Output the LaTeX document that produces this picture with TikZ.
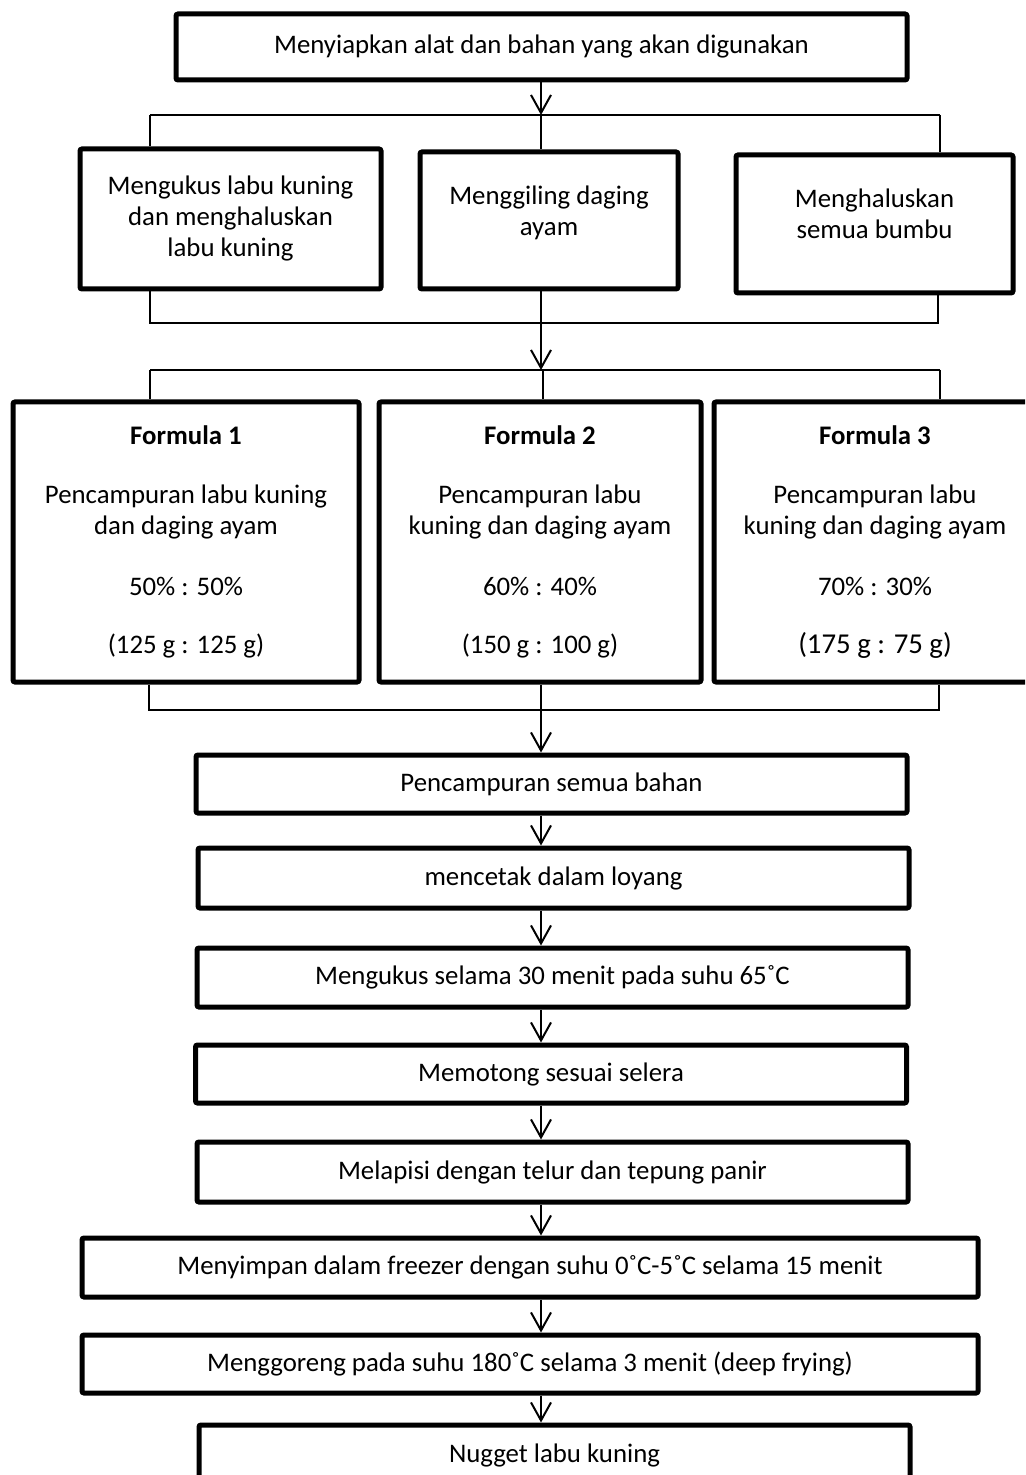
\documentclass[tikz,border=0pt]{standalone}
\usepackage{fontspec}
\setmainfont{Carlito}
\usetikzlibrary{arrows.meta, positioning, calc}
\tikzset{
    stepbox/.style={
        rectangle,
        draw=black,
        line width=2.5pt,
        rounded corners=1pt,
        align=center,
        inner sep=2pt,
        fill=white,
        font=\fontsize{13.4}{15.5}\selectfont
    },
    wide/.style={
        stepbox,
        minimum width=355.5pt,
        minimum height=29.5pt
    },
    formula/.style={
        stepbox,
        minimum width=161pt,
        minimum height=140pt
    },
    wire/.style={
        draw=black,
        line width=1pt
    },
    flow/.style={
        draw=black,
        line width=1pt,
        -{Straight Barb[length=9pt, width=10pt]}
    }
}

\begin{document}
\begin{tikzpicture}[x=0.5pt, y=-0.5pt]
\clip (0,0) rectangle (1025,1475);
\fill[white] (0,0) rectangle (1025,1475);

% Spine of the flow
\coordinate (spine) at (541,0);

% Preparation
\node[stepbox, minimum width=365.5pt, minimum height=33pt] (prep) at (541.5,47) {Menyiapkan alat dan bahan yang akan digunakan};

% Three preparation steps
\node[stepbox, minimum width=150.5pt, minimum height=70pt] (steam) at (230.5,219) {Mengukus labu kuning\\dan menghaluskan\\labu kuning};
\node[stepbox, minimum width=129pt, minimum height=68.5pt] (grind) at (549,220.5) {Menggiling daging\\ayam\\[-5.5pt]};
\node[stepbox, minimum width=138.5pt, minimum height=69pt] (spice) at (874.5,224) {Menghaluskan\\semua bumbu\\[-5.5pt]};

\coordinate (split-l) at (150,115);
\coordinate (split-m) at (541,115);
\coordinate (split-r) at (940,115);
\draw[flow] (prep.south -| spine) -- (split-m);
\draw[wire] (split-l) -- (split-r);
\draw[wire] (split-l) -- (split-l |- steam.north);
\draw[wire] (split-m) -- (split-m |- grind.north);
\draw[wire] (split-r) -- (split-r |- spice.north);

\coordinate (join-l) at (150,323);
\coordinate (join-r) at (938,323);
\draw[wire] (steam.south -| join-l) -- (join-l) -- (join-r) -- (spice.south -| join-r);

% Three formulas
\node[formula, minimum width=173pt] (f1) at (186,542) {\textbf{Formula 1}\\[14pt]Pencampuran labu kuning\\dan daging ayam\\[15pt]50\% : 50\%\\[13.5pt](125 g : 125 g)};
\node[formula] (f2) at (540,542) {\textbf{Formula 2}\\[14pt]Pencampuran labu\\kuning dan daging ayam\\[15pt]60\% : 40\%\\[13.5pt](150 g : 100 g)};
\node[formula] (f3) at (875,542) {\textbf{Formula 3}\\[14pt]Pencampuran labu\\kuning dan daging ayam\\[15pt]70\% : 30\%\\[13.5pt]{\fontsize{14.4}{15.5}\selectfont(175 g : 75 g)}};

\coordinate (fork-l) at (150,370);
\coordinate (fork-m) at (543,370);
\coordinate (fork-r) at (940,370);
\draw[flow] (grind.south -| spine) -- (spine |- fork-m);
\draw[wire] (fork-l) -- (fork-r);
\draw[wire] (fork-l) -- (fork-l |- f1.north);
\draw[wire] (fork-m) -- (fork-m |- f2.north);
\draw[wire] (fork-r) -- (fork-r |- f3.north);

\coordinate (merge-l) at (149,710);
\coordinate (merge-r) at (939,710);
\draw[wire] (f1.south -| merge-l) -- (merge-l) -- (merge-r) -- (f3.south -| merge-r);

% Processing steps
\node[wide, minimum height=29pt] (mix) at (551.5,784) {Pencampuran semua bahan};
\node[wide, minimum height=30pt] (mold) at (553.5,878) {mencetak dalam loyang};
\node[wide] (cook) at (552.5,977.5) {Mengukus selama 30 menit pada suhu 65˚C};
\node[wide, minimum height=29pt] (cut) at (551,1074) {Memotong sesuai selera};
\node[wide, minimum height=30pt] (coat) at (552.5,1172) {Melapisi dengan telur dan tepung panir};
\node[wide, minimum width=448pt] (freeze) at (530,1267.5) {Menyimpan dalam freezer dengan suhu 0˚C-5˚C selama 15 menit};
\node[wide, minimum width=448pt, minimum height=29pt] (fry) at (530,1364) {Menggoreng pada suhu 180˚C selama 3 menit (deep frying)};
\node[wide, minimum height=30pt] (nugget) at (554.5,1455) {Nugget labu kuning};

\draw[flow] (f2.south -| spine) -- (mix.north -| spine);
\draw[flow] (mix.south -| spine) -- (mold.north -| spine);
\draw[flow] (mold.south -| spine) -- (cook.north -| spine);
\draw[flow] (cook.south -| spine) -- (cut.north -| spine);
\draw[flow] (cut.south -| spine) -- (coat.north -| spine);
\draw[flow] (coat.south -| spine) -- (freeze.north -| spine);
\draw[flow] (freeze.south -| spine) -- (fry.north -| spine);
\draw[flow] (fry.south -| spine) -- (nugget.north -| spine);

\end{tikzpicture}
\end{document}
